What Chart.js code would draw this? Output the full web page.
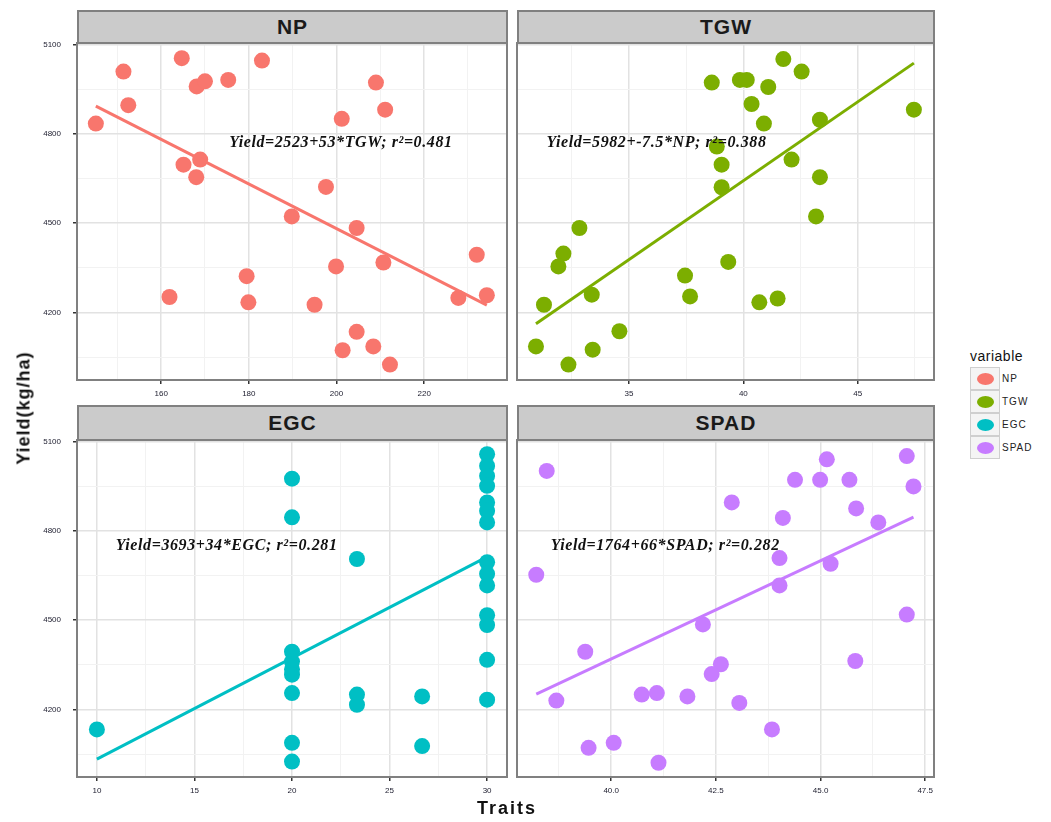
<!DOCTYPE html>
<html>
<head>
<meta charset="utf-8">
<script src="https://cdn.jsdelivr.net/npm/chart.js@4.4.0/dist/chart.umd.min.js"></script>
<style>
  body { margin: 0; background: #fff; width: 1051px; height: 822px; position: relative; overflow: hidden;
         font-family: "Liberation Sans", Arial, sans-serif; }
  canvas { position: absolute; }
  .strip { position: absolute; background: #cbcbcb; border: 2px solid #808080; box-sizing: border-box;
           text-align: center; font-weight: bold; font-size: 21px; color: #1a1a1a; letter-spacing: 1px; }
  .ytitle { position: absolute; left: 24px; top: 408px; transform: translate(-50%, -50%) rotate(-90deg);
            font-size: 18px; font-weight: bold; color: #111; letter-spacing: 1px; white-space: nowrap; }
  .xtitle { position: absolute; left: 507px; top: 808px; transform: translate(-50%, -50%);
            font-size: 18px; font-weight: bold; color: #111; letter-spacing: 2px; }
  .legend { position: absolute; left: 970px; top: 348px; }
  .legend .title { font-size: 14px; color: #111; margin-bottom: 3px; letter-spacing: 0.5px; }
  .legend .row { display: flex; align-items: center; height: 23px; }
  .legend .key { width: 28px; height: 21px; border: 1.5px solid #cfcfcf; background: #f4f4f4; position: relative; }
  .legend .key span { position: absolute; left: 6px; top: 5px; width: 17px; height: 12px; border-radius: 50%; }
  .legend .lab { font-size: 10px; color: #222; margin-left: 2px; letter-spacing: 1px; }
</style>
</head>
<body>
<div class="strip" style="left:77px;top:10px;width:431px;height:34px;line-height:30px">NP</div>
<div class="strip" style="left:517px;top:10px;width:418px;height:34px;line-height:30px">TGW</div>
<div class="strip" style="left:77px;top:405px;width:431px;height:36px;line-height:32px">EGC</div>
<div class="strip" style="left:517px;top:405px;width:418px;height:36px;line-height:32px">SPAD</div>

<canvas id="np" width="512" height="369" style="left:0;top:33px"></canvas>
<canvas id="tgw" width="427" height="369" style="left:512px;top:33px"></canvas>
<canvas id="egc" width="512" height="369" style="left:0;top:430px"></canvas>
<canvas id="spad" width="427" height="369" style="left:512px;top:430px"></canvas>

<div class="ytitle">Yield(kg/ha)</div>
<div class="xtitle">Traits</div>
<div class="legend" id="legend"><div class="title">variable</div></div>

<script>
const traits = ['NP', 'TGW', 'EGC', 'SPAD'];
const traitColors = ['#F8766D', '#7CAE00', '#00BFC4', '#C77CFF'];

const yieldTicks = [4200, 4500, 4800, 5100];
const yieldMinor = [4050, 4350, 4650, 4950];
const yieldRange = [3973, 5106];

const npTicks = [160, 180, 200, 220];
const npMinor = [150, 170, 190, 210, 230];
const npRange = [140.8, 238.9];
const npVals = [145.1, 151.4, 152.5, 164.7, 168.1, 170.0, 175.3, 183.0, 165.1, 168.9, 168.0, 197.6, 189.8, 204.6, 209.0,
                211.1, 201.2, 210.7, 199.9, 232.0, 227.8, 234.3, 179.5, 161.9, 179.9, 195.0, 204.6, 201.4, 208.4, 212.2];
const npYield = [4835, 5010, 4897, 5055, 4960, 4977, 4982, 5047, 4697, 4714, 4655, 4622, 4523, 4484, 4973,
                 4882, 4851, 4368, 4355, 4394, 4249, 4258, 4322, 4252, 4234, 4226, 4135, 4073, 4086, 4025];
const npFit = [5982, -7.5];
const npNote = 'Yield=2523+53*TGW; r\u00b2=0.481';
const npNoteAt = [201, 4771];

const tgwTicks = [35, 40, 45];
const tgwMinor = [32.5, 37.5, 42.5, 47.5];
const tgwRange = [30.1, 48.34];
const tgwVals = [38.62, 39.85, 40.15, 41.09, 41.75, 42.55, 40.36, 40.90, 43.35, 47.46, 39.05, 39.05, 42.11, 43.35, 43.18,
                 32.83, 32.13, 31.91, 31.28, 33.37, 37.45, 37.67, 39.34, 40.70, 41.50, 34.58, 30.93, 33.41, 32.35, 38.84];
const tgwYield = [4973, 4982, 4982, 4958, 5052, 5010, 4901, 4835, 4848, 4882, 4697, 4621, 4714, 4655, 4523,
                  4484, 4398, 4355, 4226, 4260, 4324, 4254, 4370, 4234, 4247, 4137, 4086, 4075, 4025, 4758];
const tgwFit = [2523, 53];
const tgwNote = 'Yield=5982+-7.5*NP; r\u00b2=0.388';
const tgwNoteAt = [36.2, 4771];

const egcTicks = [10, 15, 20, 25, 30];
const egcMinor = [12.5, 17.5, 22.5, 27.5];
const egcRange = [8.98, 31.02];
const egcVals = [10, 20, 20, 20, 20, 20, 20, 20, 20, 20, 23.33, 23.33, 23.33, 26.67, 26.67,
                 30, 30, 30, 30, 30, 30, 30, 30, 30, 30, 30, 30, 30, 30];
const egcYield = [4133, 4976, 4846, 4394, 4361, 4335, 4317, 4255, 4088, 4025, 4706, 4250, 4216, 4244, 4077,
                  5058, 5019, 4985, 4952, 4896, 4868, 4829, 4695, 4656, 4617, 4517, 4484, 4367, 4233];
const egcFit = [3693, 34];
const egcNote = 'Yield=3693+34*EGC; r\u00b2=0.281';
const egcNoteAt = [16.65, 4749];

const spadTicks = [40.0, 42.5, 45.0, 47.5];
const spadMinor = [38.75, 41.25, 43.75, 46.25];
const spadRange = [37.75, 47.71];
const spadVals = [38.46, 38.21, 45.15, 47.06, 44.39, 44.99, 45.69, 47.22, 42.88, 44.10, 45.85, 46.38, 44.02, 45.24, 44.02,
                  42.19, 47.06, 39.38, 42.62, 42.40, 45.83, 38.69, 40.73, 41.09, 41.82, 43.06, 43.84, 39.46, 40.06, 41.13];
const spadYield = [5002, 4653, 5041, 5052, 4972, 4972, 4972, 4950, 4896, 4844, 4876, 4829, 4709, 4690, 4617,
                   4486, 4519, 4394, 4352, 4319, 4363, 4230, 4250, 4255, 4244, 4222, 4133, 4071, 4088, 4021];
const spadFit = [1730, 66];
const spadNote = 'Yield=1764+66*SPAD; r\u00b2=0.282';
const spadNoteAt = [41.29, 4750];

// panel frame + equation text
const panelPlugin = {
  id: 'panel',
  afterDatasetsDraw(chart, args, opts) {
    const ctx = chart.ctx;
    const a = chart.chartArea;
    ctx.save();
    ctx.font = 'italic bold 16px "Liberation Serif", "Times New Roman", serif';
    ctx.letterSpacing = '0.6px';
    ctx.fillStyle = '#111';
    ctx.textAlign = 'center';
    ctx.textBaseline = 'middle';
    ctx.fillText(opts.text, chart.scales.x.getPixelForValue(opts.at[0]), chart.scales.y.getPixelForValue(opts.at[1]));
    ctx.strokeStyle = '#808080';
    ctx.lineWidth = 2;
    ctx.strokeRect(a.left, a.top, a.right - a.left, a.bottom - a.top);
    ctx.restore();
  }
};

function gridAxis(major, minor, range, showLabels, size, fmt) {
  const isMajor = v => major.some(m => Math.abs(m - v) < 1e-6);
  return {
    type: 'linear',
    min: range[0],
    max: range[1],
    afterBuildTicks: s => { s.ticks = major.concat(minor).sort((p, q) => p - q).map(v => ({ value: v })); },
    afterFit: s => {
      if (s.isHorizontal()) s.height = size; else s.width = size;
      s.paddingTop = 0; s.paddingBottom = 0; s.paddingLeft = 0; s.paddingRight = 0;
    },
    border: { display: false },
    grid: {
      color: c => isMajor(c.tick.value) ? '#e2e2e2' : '#f2f2f2',
      lineWidth: c => isMajor(c.tick.value) ? 1.5 : 1,
      drawTicks: showLabels,
      tickLength: 4,
      tickColor: c => isMajor(c.tick.value) ? '#333' : 'rgba(0,0,0,0)',
      tickWidth: 1.5
    },
    ticks: {
      display: showLabels,
      autoSkip: false,
      maxRotation: 0,
      padding: 5,
      color: '#223',
      font: { size: 8, family: '"Liberation Sans", Arial, sans-serif' },
      callback: v => isMajor(v) ? fmt(v) : ''
    }
  };
}

function makePanel(id, color, vals, yields, fit, xTicks, xMinor, xRange, note, noteAt, leftCol, fmt) {
  const points = vals.map((v, i) => ({ x: v, y: yields[i] }));
  const lo = Math.min(...vals), hi = Math.max(...vals);
  const line = [lo, hi].map(v => ({ x: v, y: fit[0] + fit[1] * v }));
  const yAxis = gridAxis(yieldTicks, yieldMinor, yieldRange, leftCol, leftCol ? 77 : 5, v => String(v));
  if (leftCol) yAxis.ticks.padding = 12;
  new Chart(document.getElementById(id), {
    type: 'scatter',
    data: {
      datasets: [
        { data: line, showLine: true, borderColor: color, borderWidth: 3, pointRadius: 0, order: 0 },
        { data: points, backgroundColor: color, borderWidth: 0, pointRadius: 8, pointHoverRadius: 8, order: 1 }
      ]
    },
    options: {
      responsive: false,
      animation: false,
      devicePixelRatio: 1,
      layout: { autoPadding: false, padding: { top: 10, right: 5, left: 0, bottom: 0 } },
      scales: {
        x: gridAxis(xTicks, xMinor, xRange, true, 22, fmt),
        y: yAxis
      },
      plugins: {
        legend: { display: false },
        tooltip: { enabled: false },
        panel: { text: note, at: noteAt }
      }
    },
    plugins: [panelPlugin]
  });
}

makePanel('np', traitColors[0], npVals, npYield, npFit, npTicks, npMinor, npRange, npNote, npNoteAt, true, v => String(v));
makePanel('tgw', traitColors[1], tgwVals, tgwYield, tgwFit, tgwTicks, tgwMinor, tgwRange, tgwNote, tgwNoteAt, false, v => String(v));
makePanel('egc', traitColors[2], egcVals, egcYield, egcFit, egcTicks, egcMinor, egcRange, egcNote, egcNoteAt, true, v => String(v));
makePanel('spad', traitColors[3], spadVals, spadYield, spadFit, spadTicks, spadMinor, spadRange, spadNote, spadNoteAt, false, v => v.toFixed(1));

const legend = document.getElementById('legend');
traits.forEach((t, i) => {
  const row = document.createElement('div');
  row.className = 'row';
  row.innerHTML = '<div class="key"><span style="background:' + traitColors[i] + '"></span></div><div class="lab">' + t + '</div>';
  legend.appendChild(row);
});
</script>
</body>
</html>
